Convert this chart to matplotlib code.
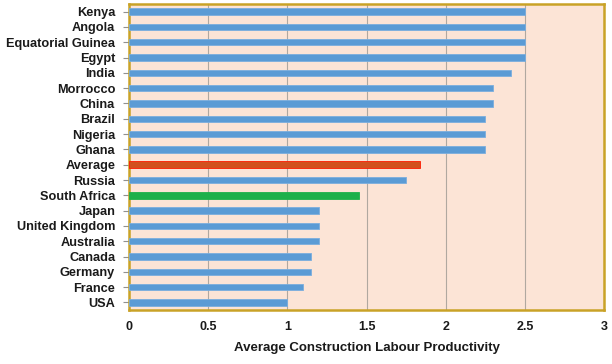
import matplotlib
matplotlib.use("Agg")
import matplotlib.pyplot as plt

countries = ["Kenya", "Angola", "Equatorial Guinea", "Egypt", "India", "Morrocco",
             "China", "Brazil", "Nigeria", "Ghana", "Average", "Russia",
             "South Africa", "Japan", "United Kingdom", "Australia", "Canada",
             "Germany", "France", "USA"]
values = [2.5, 2.5, 2.5, 2.5, 2.41, 2.3, 2.3, 2.25, 2.25, 2.25, 1.84, 1.75,
          1.45, 1.2, 1.2, 1.2, 1.15, 1.15, 1.1, 1.0]
xticks = [0, 0.5, 1, 1.5, 2, 2.5, 3]
xticklabels = ["0", "0.5", "1", "1.5", "2", "2.5", "3"]

plt.rcParams['font.family'] = ['Liberation Sans', 'DejaVu Sans']

fig = plt.figure(figsize=(6.12, 3.64), dpi=100)
ax = fig.add_axes([0.211, 0.148, 0.776, 0.841])
ax.set_facecolor('#FCE4D6')

n = len(countries)
ypos = list(range(n - 1, -1, -1))
faces, edges, heights = [], [], []
for c in countries:
    if c == "Average":
        faces.append('#D2501E'); edges.append('#FF1A00'); heights.append(0.46)
    elif c == "South Africa":
        faces.append('#1DB04A'); edges.append('#1DB04A'); heights.append(0.42)
    else:
        faces.append('#5B9BD5'); edges.append('#7AAEDE'); heights.append(0.42)

ax.barh(ypos, values, height=heights, color=faces, edgecolor=edges, linewidth=0.6, zorder=3)

ax.set_xlim(0, 3)
ax.set_ylim(-0.5, n - 0.5)
ax.set_xticks(xticks)
ax.set_xticklabels(xticklabels, fontsize=9, fontweight='bold', color='#1a1a1a')
ax.set_yticks(ypos)
ax.set_yticklabels(countries, fontsize=9.2, fontweight='bold', color='#1a1a1a')
ax.grid(axis='x', color='#B0A8A0', linewidth=0.8, zorder=1)
ax.tick_params(axis='y', length=4, color='#909090', pad=6)
ax.tick_params(axis='x', length=0, pad=8)
for s in ax.spines.values():
    s.set_color('#C9A227')
    s.set_linewidth(1.8)
ax.set_xlabel("Average Construction Labour Productivity", fontsize=9.5, fontweight='bold',
              color='#1a1a1a', labelpad=6)

fig.savefig("out.png", dpi=100)
